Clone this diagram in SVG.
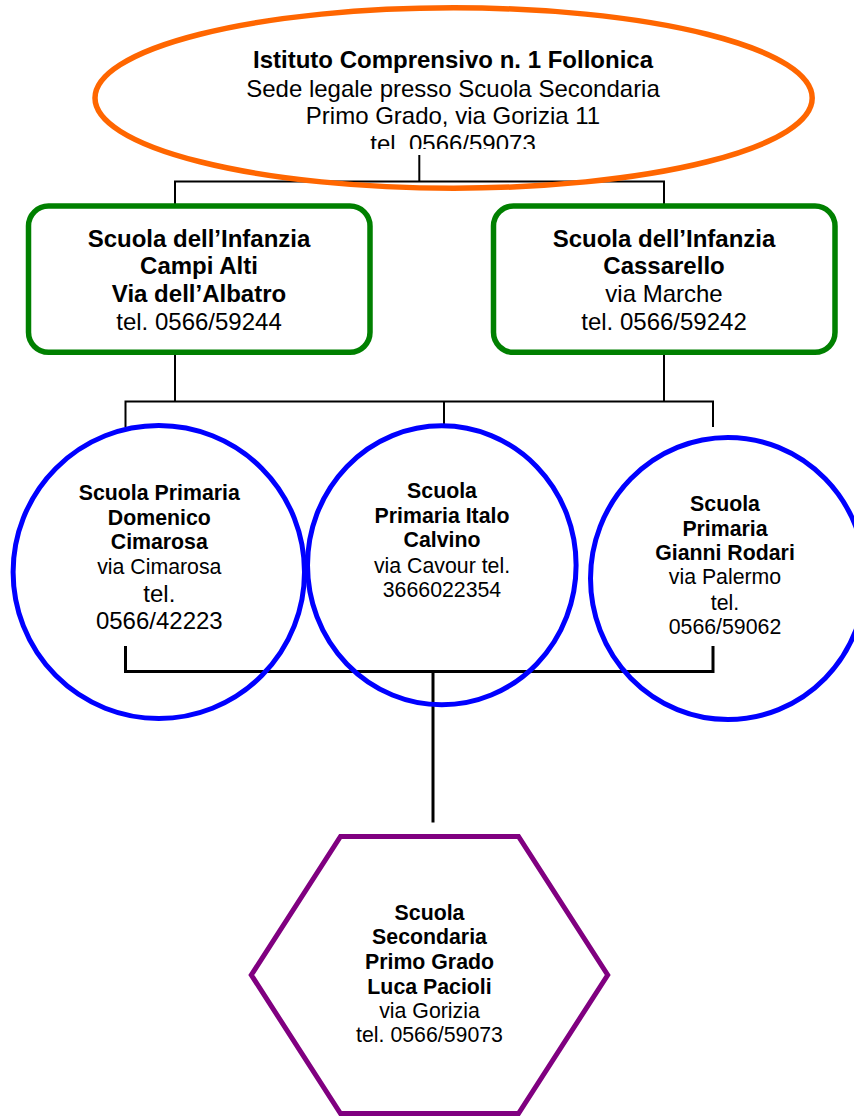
<svg xmlns="http://www.w3.org/2000/svg" width="854" height="1117" viewBox="0 0 854 1117">
<style>
  text { font-family: "Liberation Sans", Arial, sans-serif; fill: #000; text-anchor: middle; }
  .b { font-weight: bold; }
  .f24 { font-size: 24px; }
  .f21 { font-size: 21.3px; }
  .conn { fill: none; stroke: #000; stroke-width: 2; }
  .conn3 { fill: none; stroke: #000; stroke-width: 3; }
  .orange { fill: none; stroke: #FF6600; stroke-width: 5.5; }
  .green { fill: none; stroke: #008000; stroke-width: 5.5; }
  .blue { fill: none; stroke: #0000FF; stroke-width: 5; }
  .purple { fill: none; stroke: #800080; stroke-width: 5; }
</style>
<defs>
  <clipPath id="clipTop"><rect x="90" y="0" width="730" height="149"/></clipPath>
</defs>
<rect width="854" height="1117" fill="#fff"/>
<g id="connectors">
  <polyline class="conn" points="419.3,155 419.3,181.5"/>
  <polyline class="conn" points="175,204 175,181.5 664,181.5 664,204"/>
  <polyline class="conn" points="175,354 175,401.5"/>
  <polyline class="conn" points="664,354 664,401.5"/>
  <polyline class="conn" points="125.5,427 125.5,401.5 713,401.5 713,427"/>
  <polyline class="conn" points="444,401.5 444,424"/>
  <polyline class="conn3" points="125.5,646 125.5,671.5 713,671.5 713,646"/>
  <polyline class="conn3" points="433,671.5 433,822.5"/>
</g>
<g id="node-istituto">
  <ellipse class="orange" cx="453.6" cy="98" rx="358.6" ry="90.2"/>
  <text class="f24 b" x="453" y="68.3">Istituto Comprensivo n. 1 Follonica</text>
  <text class="f24" x="453" y="96.7">Sede legale presso Scuola Secondaria</text>
  <text class="f24" x="453" y="124.3">Primo Grado, via Gorizia 11</text>
  <text class="f24" x="453" y="152.2" clip-path="url(#clipTop)">tel. 0566/59073</text>
</g>
<g id="node-infanzia-campi-alti">
  <rect class="green" x="28.5" y="206" width="341.5" height="146.3" rx="20" ry="20"/>
  <text class="f24 b" x="199" y="247.3">Scuola dell’Infanzia</text>
  <text class="f24 b" x="199" y="274.3">Campi Alti</text>
  <text class="f24 b" x="199" y="302.3">Via dell’Albatro</text>
  <text class="f24" x="199" y="330">tel. 0566/59244</text>
</g>
<g id="node-infanzia-cassarello">
  <rect class="green" x="493.5" y="206" width="341.5" height="146.3" rx="20" ry="20"/>
  <text class="f24 b" x="664" y="247.3">Scuola dell’Infanzia</text>
  <text class="f24 b" x="664" y="274.3">Cassarello</text>
  <text class="f24" x="664" y="302.3">via Marche</text>
  <text class="f24" x="664" y="330">tel. 0566/59242</text>
</g>
<g id="node-primaria-cimarosa">
  <ellipse class="blue" cx="158.8" cy="572" rx="145.7" ry="146.5"/>
  <text class="f21 b" x="159.3" y="500">Scuola Primaria</text>
  <text class="f21 b" x="159.3" y="525">Domenico</text>
  <text class="f21 b" x="159.3" y="549.3">Cimarosa</text>
  <text class="f21" x="159.3" y="574.3">via Cimarosa</text>
  <text class="f24" x="159.3" y="601.7">tel.</text>
  <text class="f24" x="159.3" y="629.3">0566/42223</text>
</g>
<g id="node-primaria-calvino">
  <ellipse class="blue" cx="441.8" cy="565.3" rx="134.3" ry="139.5"/>
  <text class="f21 b" x="442" y="498.3">Scuola</text>
  <text class="f21 b" x="442" y="523">Primaria Italo</text>
  <text class="f21 b" x="442" y="547">Calvino</text>
  <text class="f21" x="442" y="572.5">via Cavour tel.</text>
  <text class="f21" x="442" y="597">3666022354</text>
</g>
<g id="node-primaria-rodari">
  <ellipse class="blue" cx="728" cy="578.5" rx="137.5" ry="141"/>
  <text class="f21 b" x="725" y="511">Scuola</text>
  <text class="f21 b" x="725" y="535.7">Primaria</text>
  <text class="f21 b" x="725" y="560">Gianni Rodari</text>
  <text class="f21" x="725" y="584.3">via Palermo</text>
  <text class="f21" x="725" y="610">tel.</text>
  <text class="f21" x="725" y="634">0566/59062</text>
</g>
<g id="node-secondaria-pacioli">
  <polygon class="purple" points="340.5,836.5 518.5,836.5 607.7,975 518.5,1113.5 340.5,1113.5 251.3,975"/>
  <text class="f21 b" x="429.5" y="920">Scuola</text>
  <text class="f21 b" x="429.5" y="944.3">Secondaria</text>
  <text class="f21 b" x="429.5" y="969">Primo Grado</text>
  <text class="f21 b" x="429.5" y="994">Luca Pacioli</text>
  <text class="f21" x="429.5" y="1018.3">via Gorizia</text>
  <text class="f21" x="429.5" y="1042.3">tel. 0566/59073</text>
</g>
</svg>
